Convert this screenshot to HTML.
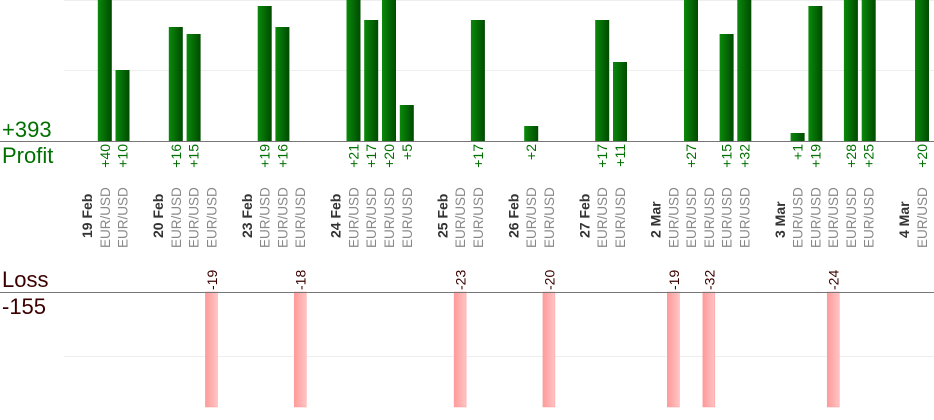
<!DOCTYPE html>
<html><head><meta charset="utf-8"><style>
html,body{margin:0;padding:0;background:#fff;width:934px;height:420px;overflow:hidden}
svg{display:block;font-family:"Liberation Sans",sans-serif}
.p{fill:#007000;font-size:14px}
.e{fill:#888;font-size:13.5px}
.d{fill:#333;font-size:14px;font-weight:bold}
.l{fill:#3a0000;font-size:14px}
</style></head><body>
<svg width="934" height="420" viewBox="0 0 934 420">
<defs>
<linearGradient id="g" x1="0" x2="1"><stop offset="0" stop-color="#0a8a0a"/><stop offset="1" stop-color="#004a00"/></linearGradient>
<linearGradient id="r" x1="0" x2="1"><stop offset="0" stop-color="#ff9a9a"/><stop offset="1" stop-color="#ffc4c4"/></linearGradient>
</defs>
<line x1="64" y1="0.5" x2="934" y2="0.5" stroke="#eee"/>
<line x1="64" y1="70.5" x2="934" y2="70.5" stroke="#eee"/>
<line x1="64" y1="356.5" x2="934" y2="356.5" stroke="#eee"/>
<g fill="url(#g)">
<rect x="97.8" y="0" width="14" height="141"/>
<rect x="115.5" y="70" width="14" height="71"/>
<rect x="168.8" y="27" width="14" height="114"/>
<rect x="186.6" y="34" width="14" height="107"/>
<rect x="257.7" y="6" width="14" height="135"/>
<rect x="275.4" y="27" width="14" height="114"/>
<rect x="346.5" y="0" width="14" height="141"/>
<rect x="364.2" y="20" width="14" height="121"/>
<rect x="382" y="0" width="14" height="141"/>
<rect x="399.8" y="105" width="14" height="36"/>
<rect x="470.9" y="20" width="14" height="121"/>
<rect x="524.2" y="126" width="14" height="15"/>
<rect x="595.2" y="20" width="14" height="121"/>
<rect x="613" y="62" width="14" height="79"/>
<rect x="684" y="0" width="14" height="141"/>
<rect x="719.6" y="34" width="14" height="107"/>
<rect x="737.3" y="0" width="14" height="141"/>
<rect x="790.6" y="133" width="14" height="8"/>
<rect x="808.4" y="6" width="14" height="135"/>
<rect x="843.9" y="0" width="14" height="141"/>
<rect x="861.7" y="0" width="14" height="141"/>
<rect x="915" y="0" width="14" height="141"/>
</g>
<g fill="url(#r)" stroke="#ff9a9a" stroke-width="0.5">
<rect x="205.4" y="292" width="12" height="115"/>
<rect x="294.2" y="292" width="12" height="115"/>
<rect x="454.1" y="292" width="12" height="115"/>
<rect x="542.9" y="292" width="12" height="115"/>
<rect x="667.3" y="292" width="12" height="115"/>
<rect x="702.8" y="292" width="12" height="115"/>
<rect x="827.2" y="292" width="12" height="115"/>
</g>
<line x1="0" y1="141.5" x2="934" y2="141.5" stroke="#777"/>
<line x1="0" y1="292.5" x2="934" y2="292.5" stroke="#777"/>
<text x="2" y="137" fill="#007000" font-size="22">+393</text>
<text x="2" y="163" fill="#007000" font-size="22">Profit</text>
<text x="2" y="287" fill="#3a0000" font-size="22">Loss</text>
<text x="2" y="314" fill="#3a0000" font-size="22">-155</text>
<g class="p" text-anchor="end">
<text transform="translate(109.8,144) rotate(-90)">+40</text>
<text transform="translate(127.5,144) rotate(-90)">+10</text>
<text transform="translate(180.8,144) rotate(-90)">+16</text>
<text transform="translate(198.6,144) rotate(-90)">+15</text>
<text transform="translate(269.7,144) rotate(-90)">+19</text>
<text transform="translate(287.4,144) rotate(-90)">+16</text>
<text transform="translate(358.5,144) rotate(-90)">+21</text>
<text transform="translate(376.2,144) rotate(-90)">+17</text>
<text transform="translate(394,144) rotate(-90)">+20</text>
<text transform="translate(411.8,144) rotate(-90)">+5</text>
<text transform="translate(482.9,144) rotate(-90)">+17</text>
<text transform="translate(536.2,144) rotate(-90)">+2</text>
<text transform="translate(607.2,144) rotate(-90)">+17</text>
<text transform="translate(625,144) rotate(-90)">+11</text>
<text transform="translate(696,144) rotate(-90)">+27</text>
<text transform="translate(731.6,144) rotate(-90)">+15</text>
<text transform="translate(749.3,144) rotate(-90)">+32</text>
<text transform="translate(802.6,144) rotate(-90)">+1</text>
<text transform="translate(820.4,144) rotate(-90)">+19</text>
<text transform="translate(855.9,144) rotate(-90)">+28</text>
<text transform="translate(873.7,144) rotate(-90)">+25</text>
<text transform="translate(927,144) rotate(-90)">+20</text>
</g>
<g class="d">
<text transform="translate(92,238) rotate(-90)">19 Feb</text>
<text transform="translate(163.1,238) rotate(-90)">20 Feb</text>
<text transform="translate(251.9,238) rotate(-90)">23 Feb</text>
<text transform="translate(340.7,238) rotate(-90)">24 Feb</text>
<text transform="translate(447.3,238) rotate(-90)">25 Feb</text>
<text transform="translate(518.4,238) rotate(-90)">26 Feb</text>
<text transform="translate(589.4,238) rotate(-90)">27 Feb</text>
<text transform="translate(660.5,238) rotate(-90)">2 Mar</text>
<text transform="translate(784.9,238) rotate(-90)">3 Mar</text>
<text transform="translate(909.2,238) rotate(-90)">4 Mar</text>
</g>
<g class="e">
<text transform="translate(109.8,248) rotate(-90)">EUR/USD</text>
<text transform="translate(127.5,248) rotate(-90)">EUR/USD</text>
<text transform="translate(180.8,248) rotate(-90)">EUR/USD</text>
<text transform="translate(198.6,248) rotate(-90)">EUR/USD</text>
<text transform="translate(216.4,248) rotate(-90)">EUR/USD</text>
<text transform="translate(269.7,248) rotate(-90)">EUR/USD</text>
<text transform="translate(287.4,248) rotate(-90)">EUR/USD</text>
<text transform="translate(305.2,248) rotate(-90)">EUR/USD</text>
<text transform="translate(358.5,248) rotate(-90)">EUR/USD</text>
<text transform="translate(376.2,248) rotate(-90)">EUR/USD</text>
<text transform="translate(394,248) rotate(-90)">EUR/USD</text>
<text transform="translate(411.8,248) rotate(-90)">EUR/USD</text>
<text transform="translate(465.1,248) rotate(-90)">EUR/USD</text>
<text transform="translate(482.9,248) rotate(-90)">EUR/USD</text>
<text transform="translate(536.2,248) rotate(-90)">EUR/USD</text>
<text transform="translate(553.9,248) rotate(-90)">EUR/USD</text>
<text transform="translate(607.2,248) rotate(-90)">EUR/USD</text>
<text transform="translate(625,248) rotate(-90)">EUR/USD</text>
<text transform="translate(678.3,248) rotate(-90)">EUR/USD</text>
<text transform="translate(696,248) rotate(-90)">EUR/USD</text>
<text transform="translate(713.8,248) rotate(-90)">EUR/USD</text>
<text transform="translate(731.6,248) rotate(-90)">EUR/USD</text>
<text transform="translate(749.3,248) rotate(-90)">EUR/USD</text>
<text transform="translate(802.6,248) rotate(-90)">EUR/USD</text>
<text transform="translate(820.4,248) rotate(-90)">EUR/USD</text>
<text transform="translate(838.2,248) rotate(-90)">EUR/USD</text>
<text transform="translate(855.9,248) rotate(-90)">EUR/USD</text>
<text transform="translate(873.7,248) rotate(-90)">EUR/USD</text>
<text transform="translate(927,248) rotate(-90)">EUR/USD</text>
</g>
<g class="l">
<text transform="translate(216.9,290) rotate(-90)">-19</text>
<text transform="translate(305.7,290) rotate(-90)">-18</text>
<text transform="translate(465.6,290) rotate(-90)">-23</text>
<text transform="translate(554.4,290) rotate(-90)">-20</text>
<text transform="translate(678.8,290) rotate(-90)">-19</text>
<text transform="translate(714.3,290) rotate(-90)">-32</text>
<text transform="translate(838.7,290) rotate(-90)">-24</text>
</g>
</svg>
</body></html>
